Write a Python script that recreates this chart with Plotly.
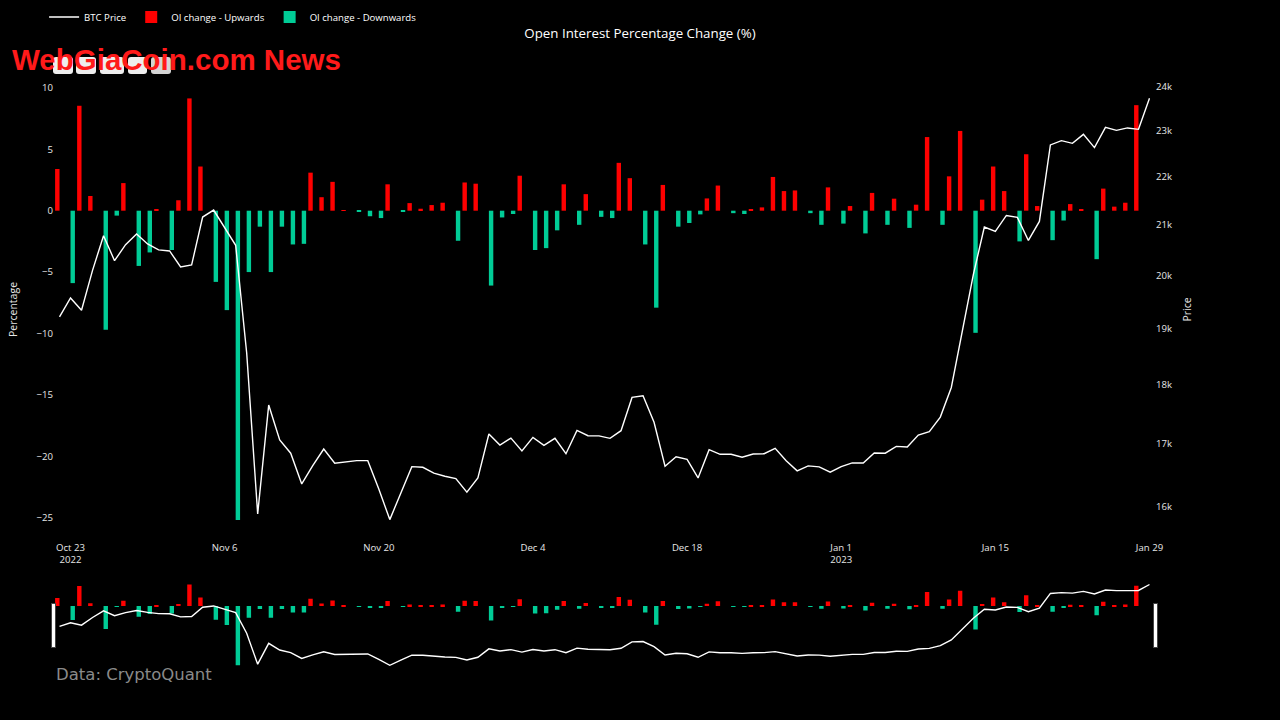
import pandas as pd
import plotly.graph_objects as go
from plotly.subplots import make_subplots

# ---------------- data ----------------
start_date = "2022-10-22"

btc_price = [
    19218, 19572, 19341, 20101, 20785, 20290, 20605, 20819, 20620, 20501,
    20481, 20167, 20206, 21162, 21305, 20946, 20593, 18565, 15890, 17650,
    17065, 16849, 16356, 16647, 16917, 16686, 16712, 16728, 16728, 16278,
    15803, 16226, 16632, 16622, 16527, 16479, 16441, 16226, 16452, 17164,
    16983, 17097, 16885, 17109, 16978, 17093, 16841, 17225, 17136, 17133,
    17093, 17219, 17781, 17809, 17359, 16638, 16792, 16750, 16452, 16906,
    16831, 16831, 16783, 16836, 16841, 16928, 16728, 16564, 16644, 16628,
    16543, 16632, 16691, 16691, 16852, 16849, 16961, 16950, 17147, 17202,
    17447, 17953, 18926, 20018, 20960, 20871, 21195, 21155, 20690, 21073,
    22688, 22782, 22723, 22921, 22629, 23076, 23010, 23063, 23032, 23733,
]

oi_change = [
    3.4, -5.9, 8.55, 1.2, -9.7, -0.4, 2.25, -4.5, -3.4, 0.06,
    -3.2, 0.85, 9.15, 3.6, -5.8, -8.1, -25.2, -5.0, -1.3, -5.0,
    -1.3, -2.75, -2.7, 3.1, 1.1, 2.35, 0.05, -0.06, -0.45, -0.6,
    2.15, -0.07, 0.62, 0.16, 0.46, 0.65, -2.45, 2.3, 2.2, -6.1,
    -0.55, -0.27, 2.85, -3.2, -3.05, -1.6, 2.15, -1.15, 1.35, -0.5,
    -0.6, 3.9, 2.65, -2.75, -7.9, 2.1, -1.3, -1.0, -0.3, 1.0,
    2.05, -0.2, -0.27, 0.08, 0.27, 2.75, 1.6, 1.65, -0.2, -1.15,
    1.9, -1.05, 0.38, -1.85, 1.45, -1.15, 0.98, -1.4, 0.49, 6.0,
    -1.15, 2.8, 6.5, -9.95, 0.9, 3.6, 1.6, -2.5, 4.6, 0.38,
    -2.4, -0.8, 0.54, 0.14, -3.95, 1.8, 0.33, 0.65, 8.6, None,
]

price_tickvals = [16000, 17000, 18000, 19000, 20000, 21000, 22000, 23000, 24000]
price_ticktext = ["16k", "17k", "18k", "19k", "20k", "21k", "22k", "23k", "24k"]

# ---------------- derived series ----------------
dates = pd.date_range(start_date, periods=len(btc_price), freq="D")
oi_up = [v if (v is not None and v > 0) else None for v in oi_change]
oi_down = [v if (v is not None and v < 0) else None for v in oi_change]

fig = make_subplots(specs=[[{"secondary_y": True}]])

fig.add_trace(
    go.Scatter(x=dates, y=btc_price, name="BTC Price", mode="lines",
               line=dict(color="#ffffff", width=1.4)),
    secondary_y=True,
)
fig.add_trace(
    go.Bar(x=dates, y=oi_up, name="OI change - Upwards",
           marker=dict(color="#ff0000", line=dict(width=0))),
    secondary_y=False,
)
fig.add_trace(
    go.Bar(x=dates, y=oi_down, name="OI change - Downwards",
           marker=dict(color="#00cc96", line=dict(width=0))),
    secondary_y=False,
)

# ---- range-selector style buttons (sitting under the watermark) ----
# pixel extents relative to the plot's top-left corner
button_boxes = [(-1, 19), (22, 42), (46, 70), (74, 93), (97, 117)]
button_fill = ["#eeeeee", "#eeeeee", "#eeeeee", "#eeeeee", "#d4d4d4"]
btn_bottom, btn_top, rad = 6, 23, 3


def rounded_rect(x0, x1, y0, y1, r):
    return (f"M{x0 + r},{y0} L{x1 - r},{y0} Q{x1},{y0} {x1},{y0 + r} "
            f"L{x1},{y1 - r} Q{x1},{y1} {x1 - r},{y1} L{x0 + r},{y1} "
            f"Q{x0},{y1} {x0},{y1 - r} L{x0},{y0 + r} Q{x0},{y0} {x0 + r},{y0} Z")


shapes = [
    dict(type="path", xref="paper", yref="paper", xsizemode="pixel", ysizemode="pixel",
         xanchor=0, yanchor=1, path=rounded_rect(a, b, btn_bottom, btn_top, rad),
         fillcolor=c, line=dict(width=0), layer="above")
    for (a, b), c in zip(button_boxes, button_fill)
]

txt = "#e6e6e6"
fs = 9.6
fig.update_layout(
    template="none",
    width=1280, height=720,
    paper_bgcolor="#000000", plot_bgcolor="#000000",
    font=dict(family="Open Sans", size=fs, color=txt),
    title=dict(text="Open Interest Percentage Change (%)", x=0.5, xanchor="center",
               y=1 - 33 / 720, yanchor="middle",
               font=dict(family="Open Sans", size=13.3, color="#ffffff")),
    margin=dict(l=54, r=125, t=80, b=51),
    barmode="group", bargap=0.2,
    showlegend=True,
    legend=dict(orientation="h", x=-0.009, xanchor="left",
                yref="container", y=1 - 17 / 720, yanchor="middle",
                font=dict(size=fs, color="#ffffff"), bgcolor="rgba(0,0,0,0)",
                traceorder="normal"),
    shapes=shapes,
    annotations=[
        dict(text="WebGiaCoin.com News", xref="paper", yref="paper",
             x=-0.04, y=1.0457, xanchor="left", yanchor="middle", showarrow=False,
             font=dict(family="Liberation Sans, sans-serif",
                       size=29.5, color="#ff1a1a", weight="bold")),
        dict(text="Data: CryptoQuant", xref="paper", yref="paper",
             x=0.0, y=-0.2957, xanchor="left", yanchor="middle", showarrow=False,
             font=dict(family="DejaVu Sans", size=16.5, color="#8a8a8a")),
    ],
)

fig.update_xaxes(
    domain=[0, 1],
    showgrid=False, zeroline=False, showline=False, ticks="",
    tickfont=dict(size=fs, color=txt), ticklabelstandoff=1,
    dtick=14 * 86400000, tick0="2022-10-23",
    automargin=False,
    rangeslider=dict(visible=True, thickness=0.15, bgcolor="#000000",
                     bordercolor="#000000", borderwidth=0),
)

fig.update_yaxes(
    title=dict(text="Percentage", font=dict(size=10.5, color=txt), standoff=16),
    range=[-26.75, 10.65], dtick=5,
    showgrid=False, zeroline=False, showline=False, ticks="",
    tickfont=dict(size=fs, color=txt), automargin=False,
    secondary_y=False,
)
fig.update_yaxes(
    title=dict(text="Price", font=dict(size=10.5, color=txt)),
    type="log", range=[4.19061, 4.38301],
    tickvals=price_tickvals, ticktext=price_ticktext,
    showgrid=False, zeroline=False, showline=False, ticks="",
    tickfont=dict(size=fs, color=txt), automargin=False,
    secondary_y=True,
)

fig.write_html("out.html")
